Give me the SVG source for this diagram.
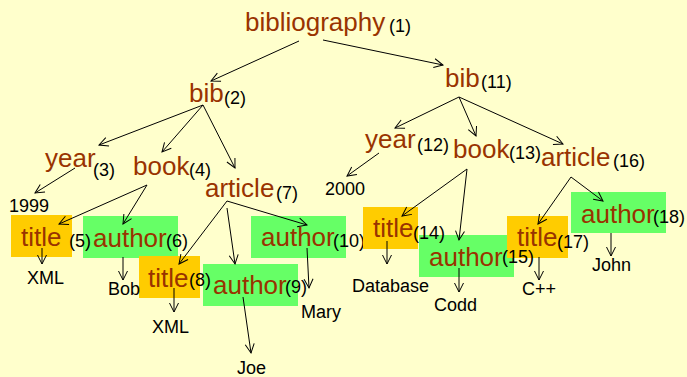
<svg xmlns="http://www.w3.org/2000/svg" width="687" height="377" viewBox="0 0 687 377">
  <defs>
    <marker id="arrow" markerUnits="userSpaceOnUse" markerWidth="12" markerHeight="12" refX="10" refY="5" orient="auto" viewBox="0 0 12 10">
      <path d="M1,0.5 L10,5 L1,9.5" fill="none" stroke="#000" stroke-width="1"/>
    </marker>
    <style>
      .tag { font-family: "Liberation Sans", Arial, sans-serif; font-size: 26px; fill: #993300; }
      .num { font-family: "Liberation Sans", Arial, sans-serif; font-size: 18px; fill: #000; }
      .val { font-family: "Liberation Sans", Arial, sans-serif; font-size: 18px; fill: #000; }
      .ttl { fill: #FFCC00; }
      .aut { fill: #66FF66; }
      .edge { stroke: #000; stroke-width: 1; fill: none; marker-end: url(#arrow); }
    </style>
  </defs>

  <rect width="687" height="377" fill="#FFFFCC"/>

  <!-- element nodes (neighbours drawn first so each index stays on top) -->
  <g id="n1"><text class="tag" x="245" y="31">bibliography</text><text class="num" x="389" y="32">(1)</text></g>
  <g id="n2"><text class="tag" x="189" y="102">bib</text><text class="num" x="224" y="104">(2)</text></g>
  <g id="n3"><text class="tag" x="45" y="167">year</text><text class="num" x="93" y="176">(3)</text></g>
  <g id="n4"><text class="tag" x="133" y="175">book</text><text class="num" x="189" y="176">(4)</text></g>
  <g id="n6"><rect class="aut" x="83" y="216" width="95" height="42"/><text class="tag" x="93" y="247">author</text><text class="num" x="166" y="247">(6)</text></g>
  <g id="n5"><rect class="ttl" x="11" y="215" width="61" height="42"/><text class="tag" x="21" y="246">title</text><text class="num" x="69" y="247">(5)</text></g>
  <g id="n7"><text class="tag" x="205" y="197">article</text><text class="num" x="276" y="199">(7)</text></g>
  <g id="n9"><rect class="aut" x="203" y="264" width="95" height="42"/><text class="tag" x="213" y="294">author</text><text class="num" x="285" y="293">(9)</text></g>
  <g id="n8"><rect class="ttl" x="139" y="256" width="61" height="42"/><text class="tag" x="148" y="287">title</text><text class="num" x="189" y="286">(8)</text></g>
  <g id="n10"><rect class="aut" x="251" y="216" width="95" height="42"/><text class="tag" x="261" y="246">author</text><text class="num" x="333" y="247">(10)</text></g>
  <g id="n11"><text class="tag" x="445" y="87">bib</text><text class="num" x="481" y="88">(11)</text></g>
  <g id="n12"><text class="tag" x="365" y="148">year</text><text class="num" x="417" y="151">(12)</text></g>
  <g id="n13"><text class="tag" x="453" y="158">book</text><text class="num" x="509" y="159">(13)</text></g>
  <g id="n16"><text class="tag" x="541" y="166">article</text><text class="num" x="613" y="167">(16)</text></g>
  <g id="n17"><rect class="ttl" x="507" y="216" width="61" height="42"/><text class="tag" x="517" y="246">title</text><text class="num" x="557" y="248">(17)</text></g>
  <g id="n15"><path class="aut" d="M419,235 H507 V258 H514 V277 H419 Z"/><text class="tag" x="429" y="266">author</text><text class="num" x="502" y="263">(15)</text></g>
  <g id="n14"><rect class="ttl" x="363" y="207" width="55" height="42"/><text class="tag" x="373" y="237">title</text><text class="num" x="413" y="239">(14)</text></g>
  <g id="n18"><rect class="aut" x="571" y="192" width="95" height="41"/><text class="tag" x="581" y="223">author</text><text class="num" x="653" y="223">(18)</text></g>

  <!-- text values -->
  <g id="v1999"><text class="val" x="9" y="212">1999</text></g>
  <g id="vXML1"><text class="val" x="27" y="284">XML</text></g>
  <g id="vBob"><text class="val" x="108" y="295">Bob</text></g>
  <g id="vXML2"><text class="val" x="152" y="333">XML</text></g>
  <g id="vJoe"><text class="val" x="237" y="374">Joe</text></g>
  <g id="vMary"><text class="val" x="301" y="318">Mary</text></g>
  <g id="v2000"><text class="val" x="325" y="195">2000</text></g>
  <g id="vDatabase"><text class="val" x="352" y="292">Database</text></g>
  <g id="vCodd"><text class="val" x="434" y="311">Codd</text></g>
  <g id="vCpp"><text class="val" x="522" y="295">C++</text></g>
  <g id="vJohn"><text class="val" x="592" y="271">John</text></g>

  <!-- parent/child edges -->
  <g id="connectors">
    <line class="edge" x1="299" y1="41" x2="211" y2="81"/>
    <line class="edge" x1="323" y1="40" x2="443" y2="65"/>
    <line class="edge" x1="203" y1="105" x2="99" y2="145"/>
    <line class="edge" x1="203" y1="105" x2="162" y2="152"/>
    <line class="edge" x1="203" y1="105" x2="235" y2="168"/>
    <line class="edge" x1="75" y1="168" x2="35" y2="193"/>
    <line class="edge" x1="147" y1="185" x2="59" y2="224"/>
    <line class="edge" x1="147" y1="185" x2="123" y2="224"/>
    <line class="edge" x1="42" y1="248" x2="42" y2="264"/>
    <line class="edge" x1="123" y1="257" x2="123" y2="280"/>
    <line class="edge" x1="227" y1="201" x2="179" y2="264"/>
    <line class="edge" x1="227" y1="208" x2="235" y2="264"/>
    <line class="edge" x1="227" y1="201" x2="307" y2="225"/>
    <line class="edge" x1="174" y1="288" x2="174" y2="312"/>
    <line class="edge" x1="243" y1="297" x2="251" y2="353"/>
    <line class="edge" x1="307" y1="248" x2="309" y2="288"/>
    <line class="edge" x1="459" y1="97" x2="395" y2="128"/>
    <line class="edge" x1="459" y1="97" x2="476" y2="136"/>
    <line class="edge" x1="459" y1="97" x2="563" y2="144"/>
    <line class="edge" x1="379" y1="153" x2="347" y2="176"/>
    <line class="edge" x1="467" y1="169" x2="402" y2="216"/>
    <line class="edge" x1="467" y1="169" x2="459" y2="240"/>
    <line class="edge" x1="571" y1="177" x2="538" y2="224"/>
    <line class="edge" x1="571" y1="177" x2="603" y2="201"/>
    <line class="edge" x1="387" y1="241" x2="387" y2="264"/>
    <line class="edge" x1="459" y1="268" x2="459" y2="292"/>
    <line class="edge" x1="539" y1="257" x2="539" y2="280"/>
    <line class="edge" x1="611" y1="233" x2="611" y2="256"/>
  </g>
</svg>
